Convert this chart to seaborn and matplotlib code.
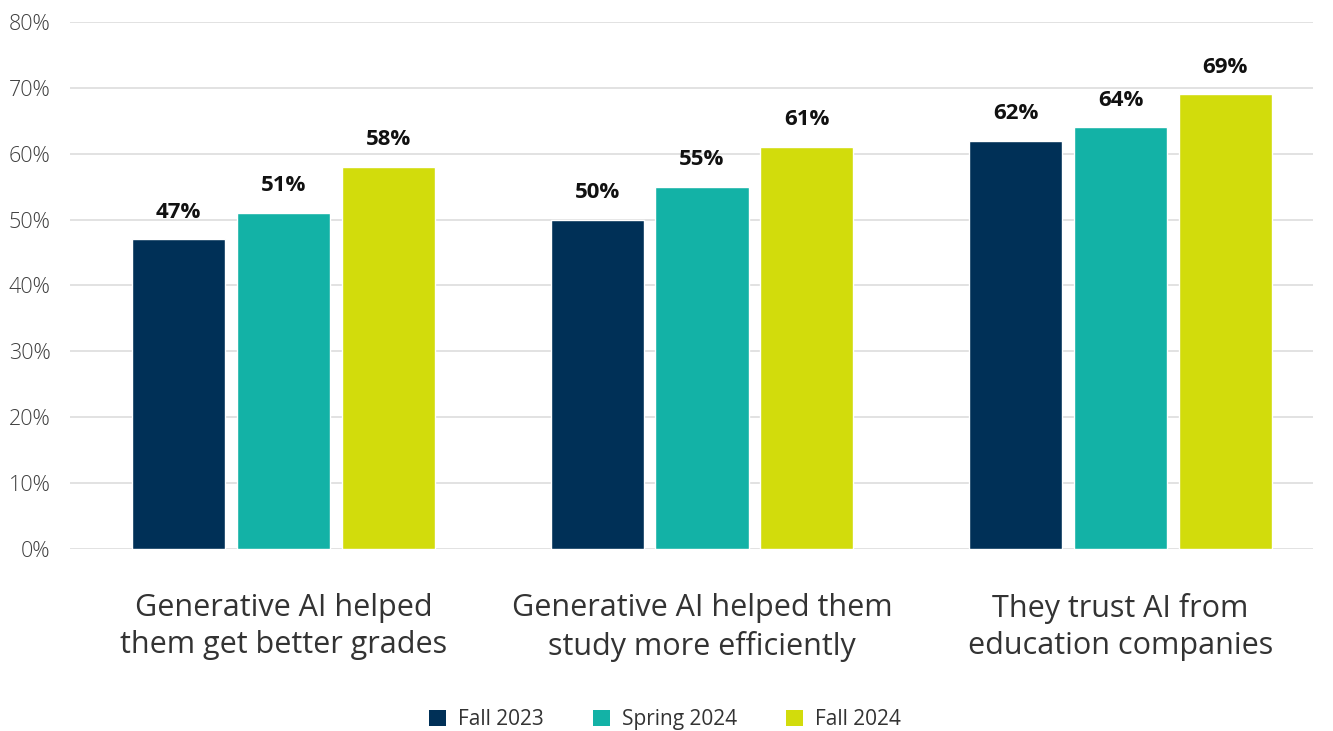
import matplotlib
matplotlib.use("Agg")
import matplotlib.pyplot as plt
import seaborn as sns
import pandas as pd
from matplotlib.patches import Patch

categories = ["Generative AI helped\nthem get better grades",
              "Generative AI helped them\nstudy more efficiently",
              "They trust AI from\neducation companies"]
series = ["Fall 2023", "Spring 2024", "Fall 2024"]
fall_2023 = [47, 50, 62]
spring_2024 = [51, 55, 64]
fall_2024 = [58, 61, 69]
colors = ["#003057", "#13B2A6", "#D2DC0C"]
yticks = [0, 10, 20, 30, 40, 50, 60, 70, 80]

rows = []
for s, vals in zip(series, [fall_2023, spring_2024, fall_2024]):
    for c, v in zip(categories, vals):
        rows.append({"category": c, "series": s, "value": v})
df = pd.DataFrame(rows)

sns.set_style("white")
plt.rcParams["font.family"] = ["Open Sans", "DejaVu Sans"]

fig = plt.figure(figsize=(13.33, 7.31), dpi=100)
ax = fig.add_axes([0.0525, 0.249, 0.9325, 0.721])

sns.barplot(data=df, x="category", y="value", hue="series", order=categories,
            hue_order=series, palette=colors, width=0.75, gap=0.11,
            saturation=1, ax=ax, legend=False, errorbar=None)

for cont in ax.containers:
    ax.bar_label(cont, labels=[f"{int(v)}%" for v in cont.datavalues],
                 padding=12, fontsize=16, fontweight="bold", color="#111111")

ax.set_ylim(0, 80)
ax.set_xlim(-0.51, 2.46)
ax.set_yticks(yticks)
ax.set_yticklabels([f"{t}%" for t in yticks], fontsize=15.5, color="#404040",
                   fontweight="light")
ax.tick_params(axis="y", length=0, pad=14)
ax.tick_params(axis="x", length=0, pad=32)
for lab in ax.get_xticklabels():
    lab.set_fontsize(22)
    lab.set_color("#333333")
    lab.set_linespacing(1.3)
ax.set_xlabel("")
ax.set_ylabel("")
ax.grid(axis="y", color="#dddddd", linewidth=1.2)
ax.set_axisbelow(True)
for sp in ax.spines.values():
    sp.set_visible(False)

handles = [Patch(facecolor=c, edgecolor="none") for c in colors]
fig.legend(handles, series, loc="center", bbox_to_anchor=(0.499, 0.016),
           ncol=3, frameon=False, fontsize=15, handlelength=0.8,
           handleheight=0.8, columnspacing=2.35, handletextpad=0.6,
           labelcolor="#333333")

fig.savefig("out.png", dpi=100)
